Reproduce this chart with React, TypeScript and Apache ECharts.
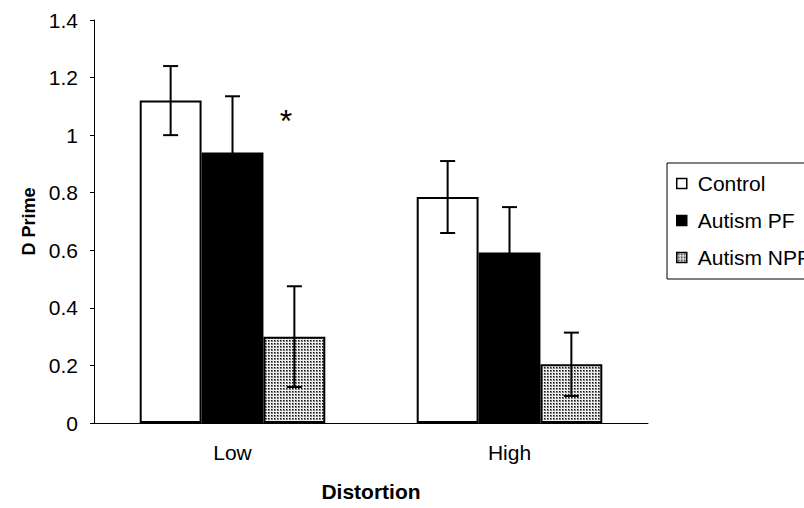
import React, { useEffect, useRef } from "react";
import * as echarts from "echarts";

const categories = ["Low", "High"];
const seriesNames = ["Control", "Autism PF", "Autism NPF"];
const controlValues = [1.12, 0.785];
const pfValues = [0.94, 0.592];
const npfValues = [0.3, 0.204];
const controlErrors = [0.12, 0.125];
const pfErrors = [0.195, 0.158];
const npfErrors = [0.175, 0.11];
const yTicks = { min: 0, max: 1.4, interval: 0.2 };

function makePattern(): HTMLCanvasElement {
  const c = document.createElement("canvas");
  c.width = 3;
  c.height = 3;
  const ctx = c.getContext("2d")!;
  ctx.fillStyle = "#eeeeee";
  ctx.fillRect(0, 0, 3, 3);
  ctx.fillStyle = "#7a7a7a";
  ctx.fillRect(1, 1, 2, 2);
  ctx.fillStyle = "#111111";
  ctx.fillRect(1, 1, 1, 1);
  return c;
}

export default function App() {
  const ref = useRef<HTMLDivElement>(null);
  useEffect(() => {
    if (!ref.current) return;
    const chart = echarts.init(ref.current, null, { renderer: "svg" });
    const pattern = { image: makePattern(), repeat: "repeat" };
    const values = [controlValues, pfValues, npfValues];
    const errors = [controlErrors, pfErrors, npfErrors];
    const fills: any[] = ["#ffffff", "#000000", pattern];
    const errData: any[] = [];
    values.forEach((vals, s) => {
      vals.forEach((v, i) => errData.push([i, v, errors[s][i], s]));
    });
    const labelFont = "Liberation Sans";
    chart.setOption({
      animation: false,
      backgroundColor: "#ffffff",
      grid: { left: 94, right: 156, top: 20, bottom: 85, outerBoundsMode: "none", containLabel: false },
      legend: {
        orient: "vertical",
        left: 667,
        top: 163,
        data: seriesNames,
        itemWidth: 10,
        itemHeight: 10,
        itemGap: 16,
        padding: [10, 40, 11, 9],
        borderColor: "#000",
        borderWidth: 1,
        icon: "rect",
        itemStyle: { borderWidth: 1.5, borderColor: "#000" },
        textStyle: {
          fontFamily: labelFont,
          fontSize: 21,
          color: "#000",
          lineHeight: 21,
          padding: [0, 0, 0, 6],
        },
      },
      xAxis: {
        type: "category",
        data: categories,
        name: "Distortion",
        nameLocation: "middle",
        nameGap: 58,
        nameTextStyle: { fontFamily: labelFont, fontWeight: "bold", fontSize: 21, color: "#000" },
        axisLine: { lineStyle: { color: "#000", width: 1 } },
        axisTick: { inside: true, length: 5, lineStyle: { color: "#000" } },
        axisLabel: { fontFamily: labelFont, fontSize: 21, color: "#000", margin: 19 },
      },
      yAxis: {
        type: "value",
        min: yTicks.min,
        max: yTicks.max,
        interval: yTicks.interval,
        name: "D Prime",
        nameLocation: "middle",
        nameRotate: 90,
        nameGap: 50,
        nameTextStyle: { fontFamily: labelFont, fontWeight: "bold", fontSize: 18, color: "#000" },
        splitLine: { show: false },
        axisLine: { show: true, lineStyle: { color: "#000", width: 1 } },
        axisTick: { show: true, length: 4, lineStyle: { color: "#000" } },
        axisLabel: { fontFamily: labelFont, fontSize: 21, color: "#000", margin: 16 },
      },
      series: [
        ...seriesNames.map((name, s) => ({
          name,
          type: "bar",
          data: values[s],
          barGap: "0%",
          barCategoryGap: "33%",
          itemStyle: { color: fills[s], borderColor: "#000", borderWidth: 2 },
        })),
        {
          type: "custom",
          name: "errors",
          data: errData,
          z: 10,
          renderItem: (params: any, api: any) => {
            const i = api.value(0);
            const v = api.value(1);
            const e = api.value(2);
            const s = api.value(3);
            const catW = api.size([1, 0])[0];
            const barW = (catW * 0.67) / 3;
            const c = api.coord([i, v]);
            const x = c[0] + (s - 1) * barW;
            const top = api.coord([i, v + e])[1];
            const bot = api.coord([i, v - e])[1];
            const cap = 7.5;
            const st = { stroke: "#000", lineWidth: 2 };
            return {
              type: "group",
              children: [
                { type: "line", shape: { x1: x, y1: top, x2: x, y2: bot }, style: st },
                { type: "line", shape: { x1: x - cap, y1: top, x2: x + cap, y2: top }, style: st },
                { type: "line", shape: { x1: x - cap, y1: bot, x2: x + cap, y2: bot }, style: st },
              ],
            };
          },
        },
      ],
      graphic: [
        {
          type: "text",
          x: 286,
          y: 105,
          style: {
            text: "*",
            fontFamily: "Liberation Sans",
            fontSize: 32,
            fill: "#000",
            textAlign: "center",
            textVerticalAlign: "top",
          },
        },
      ],
    });
    return () => chart.dispose();
  }, []);
  return <div ref={ref} style={{ width: 804, height: 508, position: "absolute", left: 0, top: 0 }} />;
}
